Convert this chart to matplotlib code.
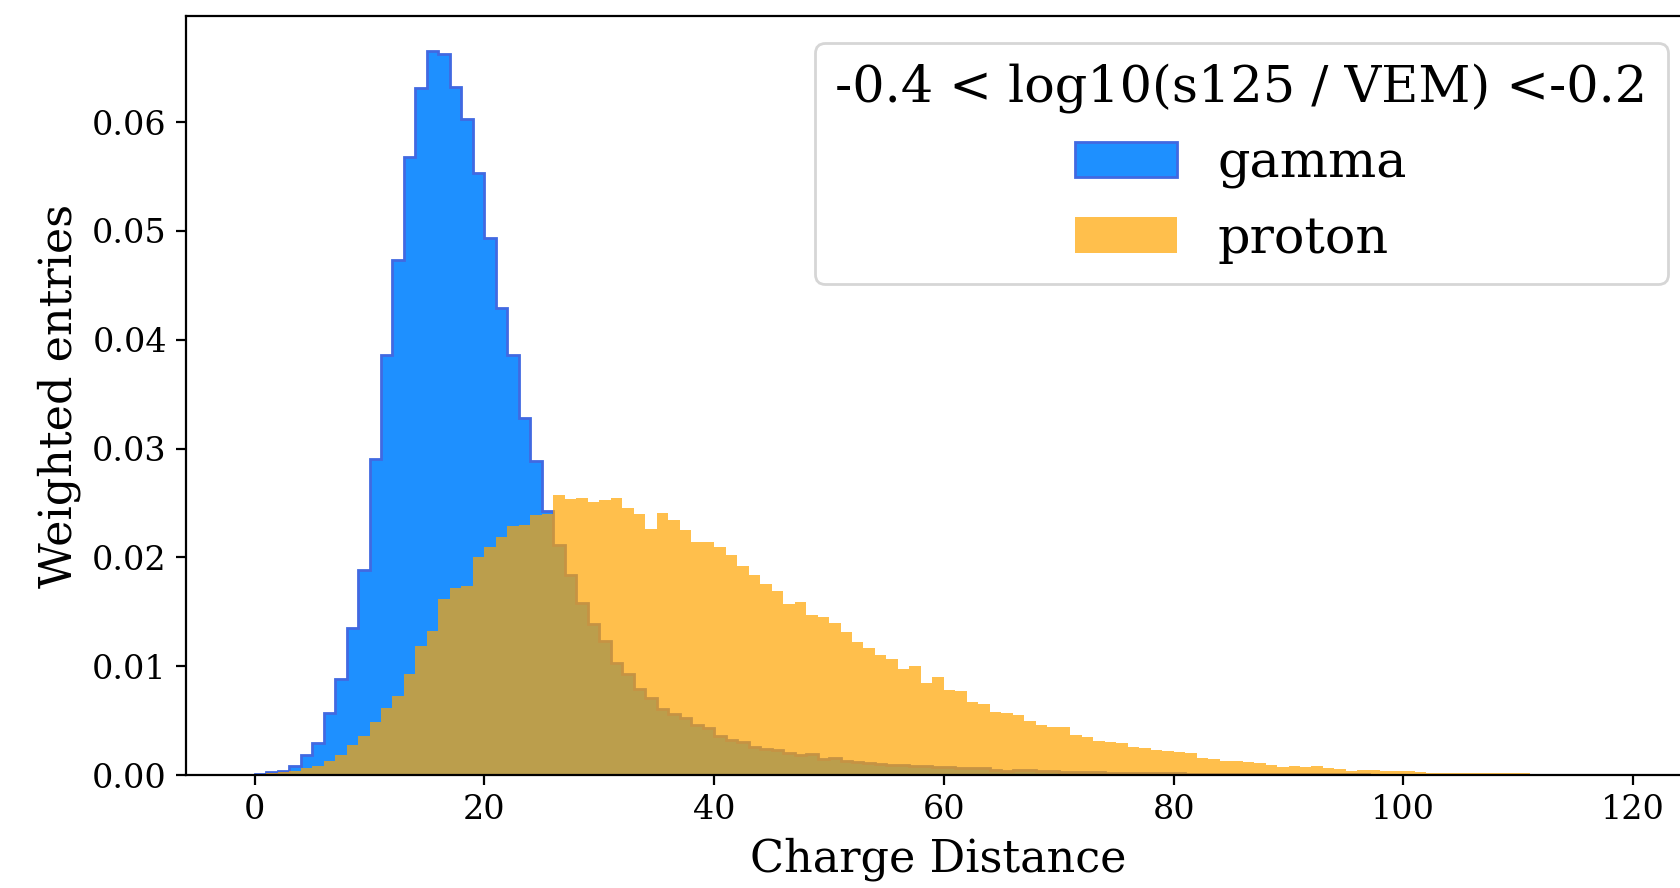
import numpy as np
import matplotlib
matplotlib.use("Agg")
import matplotlib.pyplot as plt

plt.rcParams['font.family'] = ['DejaVu Serif']

# bin edges: 0..120, width 1
bin_edges = np.arange(0, 121, 1)

gamma = [
    0.0001, 0.0003, 0.0004, 0.0008, 0.0018, 0.0029, 0.0057, 0.0088, 0.0135, 0.0188,
    0.0290, 0.0386, 0.0473, 0.0568, 0.0631, 0.0665, 0.0663, 0.0632, 0.0603, 0.0553,
    0.0494, 0.0429, 0.0386, 0.0328, 0.0289, 0.0243, 0.0211, 0.0184, 0.0158, 0.0139,
    0.0123, 0.0103, 0.0093, 0.0079, 0.0071, 0.0061, 0.0056, 0.0052, 0.0046, 0.0043,
    0.0036, 0.0032, 0.0030, 0.0026, 0.0024, 0.0023, 0.0020, 0.0018, 0.0019, 0.0015,
    0.0016, 0.0013, 0.0012, 0.0011, 0.0010, 0.00095, 0.0009, 0.00085, 0.0008, 0.0007,
    0.00072, 0.0006, 0.00065, 0.0006, 0.0005, 0.0004, 0.0005, 0.0005, 0.0004, 0.0004,
    0.0003, 0.0003, 0.0003, 0.00025, 0.00022, 0.0002, 0.0002, 0.00018, 0.00017, 0.00015,
    0.00015, 0.00013, 0.00012, 0.00012, 0.0001, 0.0001, 0.00009, 0.00009, 0.00008, 0.00008,
    0.00007, 0.00007, 0.00006, 0.00006, 0.00005, 0.00005, 0.00005, 0.00004, 0.00004, 0.00004,
    0.00003, 0.00003, 0.00003, 0.00003, 0.00002, 0.00002, 0.00002, 0.00002, 0.00002, 0.00002,
    0.00001, 0.00001, 0.00001, 0.00001, 0.00001, 0.00001, 0.00001, 0.00001, 0.00001, 0.0,
]

proton = [
    0.00004, 0.0002, 0.0003, 0.0004, 0.0006, 0.0008, 0.0013, 0.0018, 0.0028, 0.0036,
    0.0049, 0.0062, 0.0073, 0.0093, 0.0119, 0.0132, 0.0162, 0.0172, 0.0174, 0.0200,
    0.0210, 0.0219, 0.0229, 0.0230, 0.0239, 0.0240, 0.0257, 0.0254, 0.0255, 0.0251,
    0.0253, 0.0255, 0.0245, 0.0240, 0.0226, 0.0241, 0.0234, 0.0225, 0.0214, 0.0214,
    0.0210, 0.0202, 0.0192, 0.0184, 0.0176, 0.0169, 0.0157, 0.0159, 0.0147, 0.0145,
    0.0140, 0.0131, 0.0122, 0.0117, 0.0110, 0.0107, 0.0097, 0.0100, 0.0085, 0.0090,
    0.0078, 0.0077, 0.0067, 0.0065, 0.0058, 0.0057, 0.0055, 0.0050, 0.0046, 0.0044,
    0.0044, 0.0037, 0.0035, 0.0031, 0.0030, 0.0029, 0.0026, 0.0025, 0.0023, 0.0022,
    0.0021, 0.0020, 0.0016, 0.0015, 0.0013, 0.00126, 0.0012, 0.0011, 0.00095, 0.00077,
    0.0008, 0.0007, 0.00083, 0.0006, 0.00052, 0.0004, 0.00046, 0.00043, 0.0004, 0.00037,
    0.00034, 0.00025, 0.00018, 0.00018, 0.00018, 0.00018, 0.00018, 0.00015, 0.00015, 0.00015,
    0.00018, 0.00011, 0.00011, 0.00011, 0.00011, 0.00011, 0.00011, 0.00011, 0.00011, 0.0,
]

legend_title = "-0.4 < log10(s125 / VEM) <-0.2"
labels = ["gamma", "proton"]
xlabel = "Charge Distance"
ylabel = "Weighted entries"

W, H = 1681, 888
fig = plt.figure(figsize=(W / 200, H / 200), dpi=200)
ax = fig.add_axes([186.3 / W, (H - 775) / H, 1503.7 / W, 759 / H])

centers = bin_edges[:-1] + 0.5
ax.hist(centers, bins=bin_edges, weights=gamma, histtype='stepfilled',
        facecolor='dodgerblue', edgecolor='royalblue', linewidth=1.0, label=labels[0])
ax.hist(centers, bins=bin_edges, weights=proton, histtype='stepfilled',
        facecolor='orange', alpha=0.7, linewidth=0, label=labels[1])

ax.set_xlim(-5.95, 124.95)
ax.set_ylim(0, 0.06976)
ax.set_xticks([0, 20, 40, 60, 80, 100, 120])
ax.set_yticks([0, 0.01, 0.02, 0.03, 0.04, 0.05, 0.06])
ax.set_yticklabels([f"{v:.2f}" for v in [0, 0.01, 0.02, 0.03, 0.04, 0.05, 0.06]])
ax.tick_params(labelsize=12)
ax.set_xlabel(xlabel, fontsize=16)
ax.set_ylabel(ylabel, fontsize=16)

leg = ax.legend(title=legend_title, fontsize=18.3, title_fontsize=18.3,
                loc='upper left', bbox_to_anchor=(815 / W, 1 - 43 / H),
                bbox_transform=fig.transFigure, borderaxespad=0, framealpha=0.8)

fig.savefig("out.png", dpi=200)
